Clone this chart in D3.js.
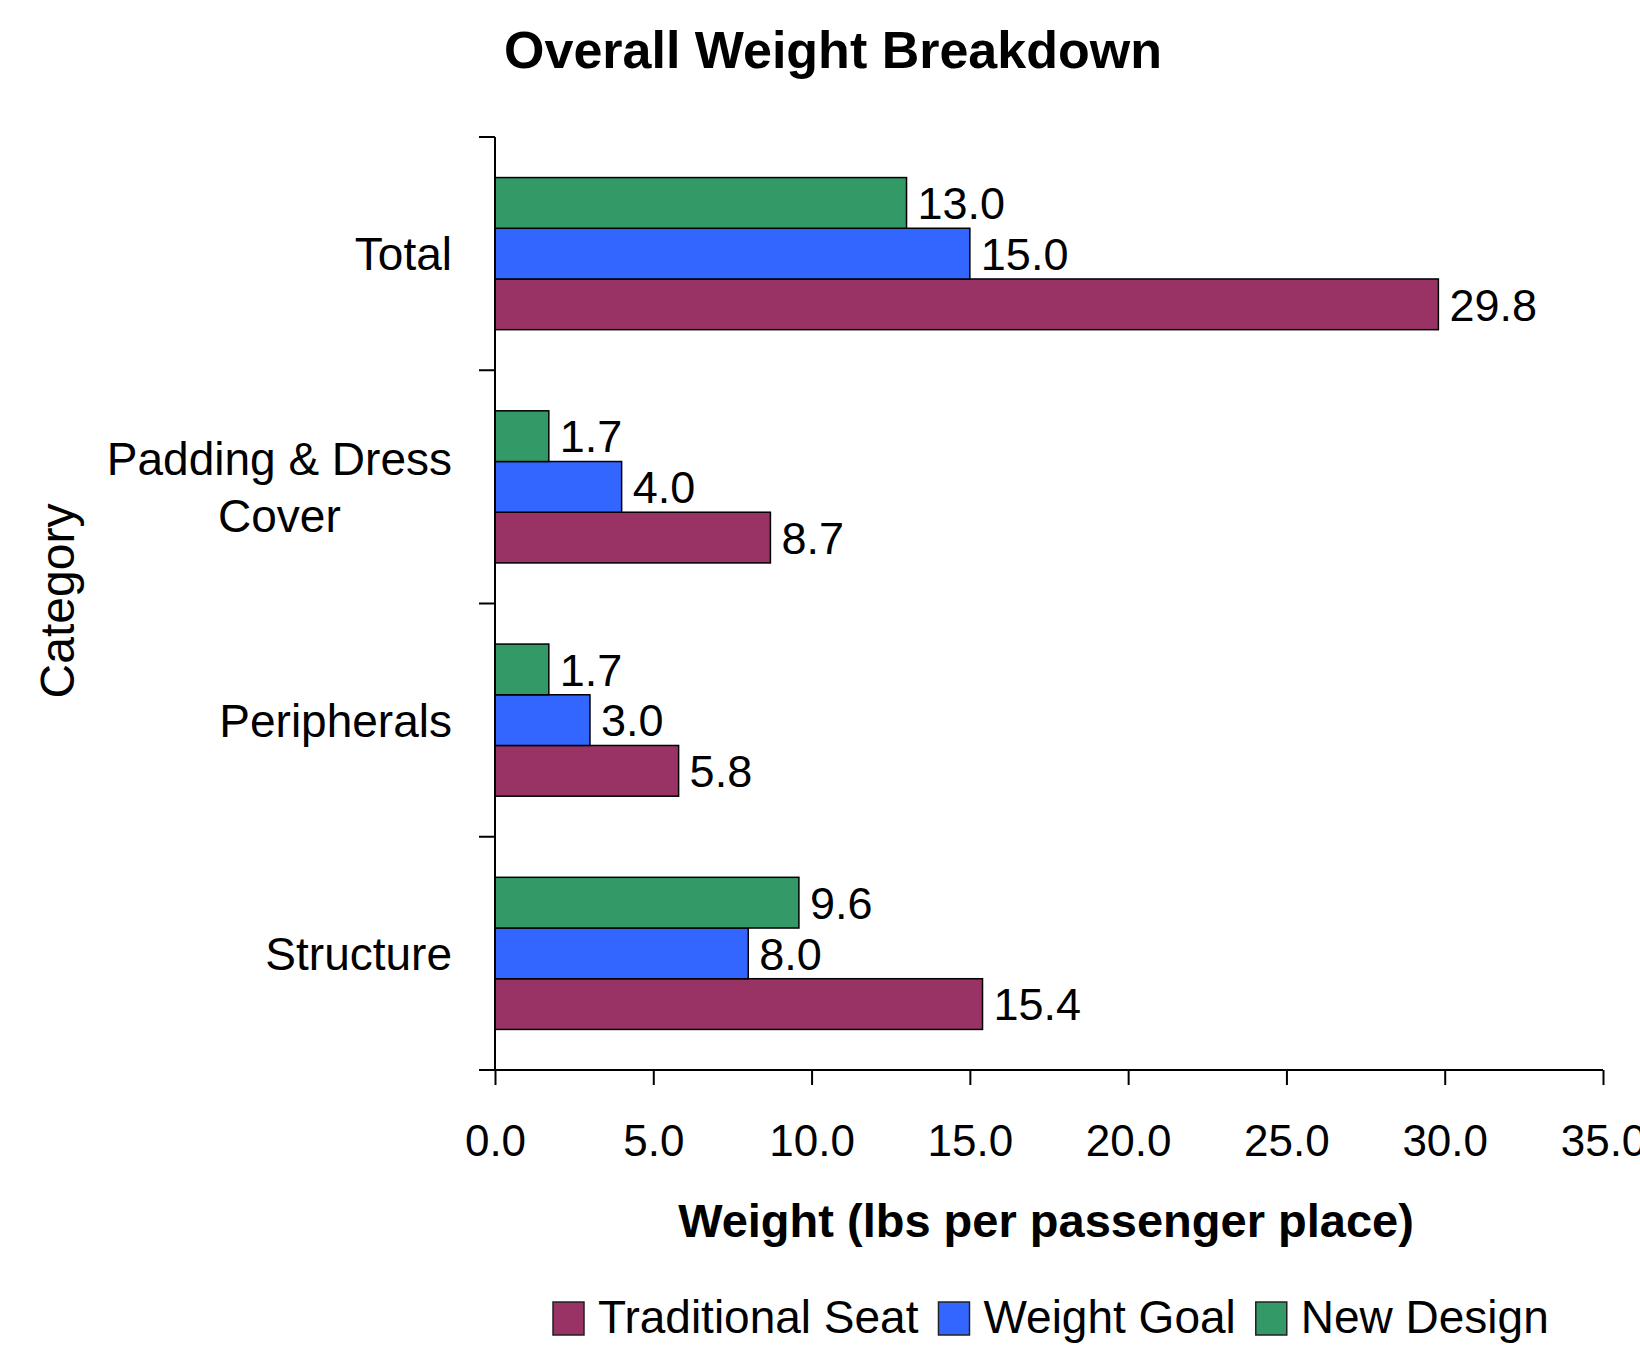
<!DOCTYPE html>
<html>
<head>
<meta charset="utf-8">
<script src="https://cdn.jsdelivr.net/npm/d3@7"></script>
<style>
  html, body { margin: 0; padding: 0; background: #fff; }
  svg { display: block; }
  text { font-family: "Liberation Sans", Arial, sans-serif; fill: #000; }
</style>
</head>
<body>
<svg id="chart" width="1640" height="1358"></svg>
<script>
// ---- Data ----
const categories = ["Total", "Padding & Dress Cover", "Peripherals", "Structure"];
const categoryLines = [["Total"], ["Padding & Dress", "Cover"], ["Peripherals"], ["Structure"]];
const seriesNames = ["Traditional Seat", "Weight Goal", "New Design"];
const traditionalSeat = [29.8, 8.7, 5.8, 15.4];
const weightGoal = [15.0, 4.0, 3.0, 8.0];
const newDesign = [13.0, 1.7, 1.7, 9.6];
const xTicks = [0, 5, 10, 15, 20, 25, 30, 35];
const seriesColors = ["#993366", "#3366FF", "#339966"];

const seriesValues = [traditionalSeat, weightGoal, newDesign];

const svg = d3.select("#chart");

// ---- Scales ----
const x = d3.scaleLinear().domain([0, 35]).range([495, 1603]);
const y = d3.scaleBand().domain(categories).range([137, 1070]).paddingInner(0).paddingOuter(0);
// within each category: New Design on top, then Weight Goal, Traditional Seat at bottom
const inner = d3.scaleBand().domain(["New Design", "Weight Goal", "Traditional Seat"])
  .range([0, y.bandwidth()]).paddingInner(0).paddingOuter(0.8);

// ---- Title ----
svg.append("text")
  .attr("x", 833).attr("y", 68)
  .attr("text-anchor", "middle")
  .attr("font-size", 52).attr("font-weight", "bold")
  .text("Overall Weight Breakdown");

// ---- Bars ----
const barData = [];
categories.forEach((c, i) => {
  seriesNames.forEach((s, j) => {
    barData.push({ cat: c, series: s, value: seriesValues[j][i], color: seriesColors[j] });
  });
});

const bars = svg.append("g");
bars.selectAll("rect").data(barData).join("rect")
  .attr("x", x(0))
  .attr("y", d => y(d.cat) + inner(d.series))
  .attr("width", d => x(d.value) - x(0))
  .attr("height", inner.bandwidth())
  .attr("fill", d => d.color)
  .attr("stroke", "#000")
  .attr("stroke-width", 1.5);

bars.selectAll("text").data(barData).join("text")
  .attr("x", d => x(d.value) + 11)
  .attr("y", d => y(d.cat) + inner(d.series) + inner.bandwidth() / 2)
  .attr("dy", "0.36em")
  .attr("font-size", 45)
  .text(d => d3.format(".1f")(d.value));

// ---- X axis ----
const xAxis = d3.axisBottom(x)
  .tickValues(xTicks)
  .tickFormat(d3.format(".1f"))
  .tickSize(15)
  .tickPadding(40);
const gx = svg.append("g").attr("transform", "translate(0,1070)").call(xAxis);
gx.select(".domain").attr("stroke", "#000").attr("stroke-width", 2)
  .attr("d", `M${x(0) - 16},0H${x(35)}`);
gx.selectAll(".tick line").attr("stroke", "#000").attr("stroke-width", 2);
gx.selectAll(".tick text")
  .attr("font-size", 44)
  .attr("font-family", "\"Liberation Sans\", Arial, sans-serif")
  .attr("fill", "#000");

// ---- Y axis ----
const gy = svg.append("g");
gy.append("line")
  .attr("x1", x(0)).attr("x2", x(0))
  .attr("y1", y.range()[0]).attr("y2", y.range()[1])
  .attr("stroke", "#000").attr("stroke-width", 2);
const boundaries = categories.map(c => y(c)).concat([y.range()[1]]);
gy.selectAll("line.tick").data(boundaries).join("line")
  .attr("class", "tick")
  .attr("x1", x(0) - 16).attr("x2", x(0))
  .attr("y1", d => d).attr("y2", d => d)
  .attr("stroke", "#000").attr("stroke-width", 2);

const lineGap = 57;
categories.forEach((c, i) => {
  const lines = categoryLines[i];
  const cy = y(c) + y.bandwidth() / 2;
  const t = gy.append("text")
    .attr("font-size", 46)
    .attr("text-anchor", "middle");
  lines.forEach((ln, k) => {
    t.append("tspan")
      .attr("x", 0)
      .attr("y", cy + (k - (lines.length - 1) / 2) * lineGap)
      .attr("dy", "0.36em")
      .text(ln);
  });
  // right-align the block at x=452 while centering its lines
  const w = d3.max(t.selectAll("tspan").nodes(), n => n.getComputedTextLength());
  t.selectAll("tspan").attr("x", 452 - w / 2);
});

// ---- Axis titles ----
svg.append("text")
  .attr("x", 1046).attr("y", 1237)
  .attr("text-anchor", "middle")
  .attr("font-size", 47).attr("font-weight", "bold")
  .text("Weight (lbs per passenger place)");

svg.append("text")
  .attr("transform", "translate(74,601) rotate(-90)")
  .attr("text-anchor", "middle")
  .attr("font-size", 48)
  .text("Category");

// ---- Legend ----
const legend = svg.append("g");
let lx = 553;
seriesNames.forEach((s, j) => {
  legend.append("rect")
    .attr("x", lx).attr("y", 1302)
    .attr("width", 31).attr("height", 33)
    .attr("fill", seriesColors[j])
    .attr("stroke", "#222").attr("stroke-width", 1.5);
  const t = legend.append("text")
    .attr("x", lx + 45).attr("y", 1333)
    .attr("font-size", 46)
    .text(s);
  const w = t.node().getComputedTextLength();
  lx = lx + 45 + w + 20;
});
</script>
</body>
</html>
